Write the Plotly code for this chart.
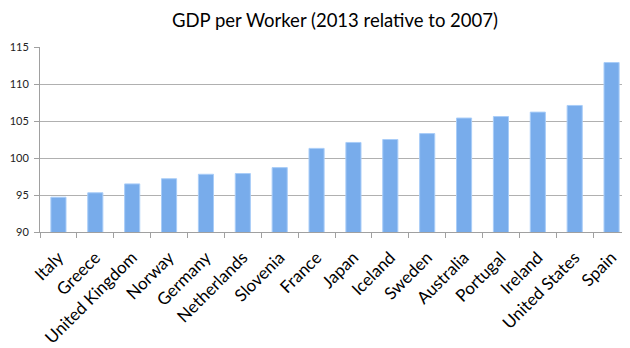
import plotly.graph_objects as go

countries = ["Italy", "Greece", "United Kingdom", "Norway", "Germany", "Netherlands",
             "Slovenia", "France", "Japan", "Iceland", "Sweden", "Australia",
             "Portugal", "Ireland", "United States", "Spain"]
gdp_per_worker = [94.7, 95.3, 96.5, 97.2, 97.8, 97.9, 98.7, 101.3, 102.1, 102.5,
                  103.3, 105.4, 105.6, 106.2, 107.1, 112.9]
y_ticks = [90, 95, 100, 105, 110, 115]

fig = go.Figure()
fig.add_trace(go.Bar(
    x=countries,
    y=gdp_per_worker,
    marker=dict(color="#78aceb", line=dict(color="#a9cdf8", width=1)),
    width=0.41,
    hoverinfo="x+y",
))

# The page body has an 8px default margin; size the figure to fill the window.
fig.update_layout(
    template="none",
    width=622, height=340,
    margin=dict(l=31.5, r=0, t=39, b=115.7, autoexpand=False),
    paper_bgcolor="white", plot_bgcolor="white",
    title=dict(text="GDP per Worker (2013 relative to 2007)",
               x=0.5, xanchor="center", xref="paper",
               y=1 - 13 / 340, yref="container", yanchor="middle",
               font=dict(family="Lato", size=18.5, color="#000000")),
    showlegend=False,
    font=dict(family="Lato"),
)
fig.update_xaxes(
    type="category",
    automargin=False,
    tickangle=-45,
    tickson="boundaries",
    ticklabelshift=0,
    ticklabelstandoff=8,
    ticks="outside", ticklen=5, tickcolor="#a0a0a0",
    showline=True, linecolor="#a0a0a0", linewidth=1,
    showgrid=False,
    tickfont=dict(family="Lato", size=17, color="#000000"),
)
fig.update_yaxes(
    automargin=False,
    range=[90, 115],
    tickvals=y_ticks,
    ticks="outside", ticklen=5, tickcolor="#a0a0a0",
    ticklabelstandoff=3,
    showline=True, linecolor="#a0a0a0", linewidth=1,
    showgrid=True, gridcolor="#b0b0b0", gridwidth=1,
    zeroline=False,
    tickfont=dict(family="Lato", size=11, color="#222222"),
)

fig.write_html("out.html")
